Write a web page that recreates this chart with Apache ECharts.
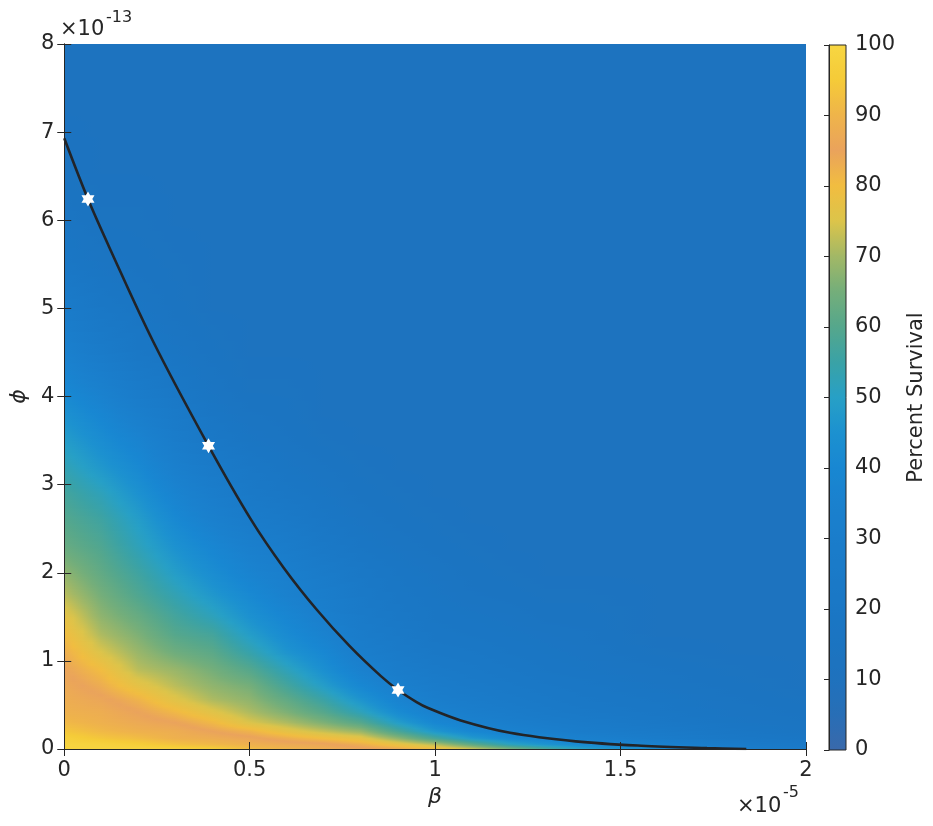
<!DOCTYPE html>
<html>
<head>
<meta charset="utf-8">
<script src="https://cdn.jsdelivr.net/npm/echarts@6/dist/echarts.min.js"></script>
<style>
html,body{margin:0;padding:0;background:#ffffff;}
#chart{width:933px;height:826px;}
</style>
</head>
<body>
<div id="chart"></div>
<script>
// ---------- data (beta in units of 1e-5, phi in units of 1e-13) ----------
const betaSamples = [0, 0.1, 0.2, 0.3, 0.4, 0.5, 0.6, 0.7, 0.8, 0.9, 1.0, 1.1, 1.2, 1.3, 1.4, 1.6, 1.8, 2.0];
const phiSamples = [0, 0.05, 0.12, 0.2, 0.3, 0.42, 0.56, 0.72, 0.9, 1.1, 1.3, 1.5, 1.75, 2.0, 2.3, 2.6, 2.9, 3.2, 3.5, 3.8, 4.1, 4.5, 5.0, 5.5, 6.0, 6.6, 7.3, 8.0];
// percent survival read at (phiSamples[i], betaSamples[j]); one row per phi sample, bottom to top
const survivalRows = [
  [99, 99, 99, 98, 96, 92, 90, 88, 86, 84, 80, 74, 66, 58, 50, 42, 32, 26],
  [99, 98, 96, 93, 91, 89, 87, 86, 83, 78, 72, 62, 52, 46, 42, 36, 27, 22],
  [97, 94, 92, 89, 88, 86, 83, 80, 77, 68, 58, 48, 42, 38, 34, 29, 22, 19],
  [94, 91, 89, 88, 85, 82, 77, 73, 69, 58, 47, 40, 36, 32, 29, 25, 20, 17],
  [91, 89, 87, 85, 81, 75, 71, 66, 60, 49, 40, 35, 31, 28, 26, 22, 18, 16],
  [89, 88, 85, 81, 76, 71, 66, 60, 52, 42, 35, 31, 28, 25, 23, 20, 17, 15],
  [88, 86, 82, 76, 71, 68, 62, 55, 46, 37, 31, 28, 25, 23, 21, 19, 16, 14],
  [87, 83, 77, 72, 68, 65, 57, 49, 40, 33, 28, 25, 23, 21, 20, 17, 15, 13],
  [85, 80, 72, 69, 65, 60, 52, 44, 35, 29, 25, 23, 21, 19, 18, 16, 14, 13],
  [83, 75, 69, 64, 61, 54, 46, 40, 31, 26, 22, 21, 19, 18, 17, 14, 13, 13],
  [80, 71, 66, 60, 57, 49, 42, 36, 28, 24, 20, 19, 18, 17, 16, 13, 13, 13],
  [77, 68, 63, 57, 52, 45, 39, 33, 26, 22, 19, 18, 17, 15, 15, 13, 13, 13],
  [72, 65, 59, 53, 47, 41, 35, 30, 24, 20, 18, 16, 15, 14, 14, 13, 13, 13],
  [68, 62, 56, 49, 43, 37, 32, 27, 22, 19, 17, 15, 14, 13, 13, 13, 13, 13],
  [63, 59, 52, 45, 39, 33, 28, 23, 19, 17, 15, 14, 13, 13, 13, 13, 13, 13],
  [60, 56, 49, 41, 34, 28, 24, 20, 17, 15, 14, 13, 13, 13, 13, 13, 13, 13],
  [57, 52, 45, 37, 30, 24, 20, 18, 15, 14, 13, 13, 13, 13, 13, 13, 13, 13],
  [53, 47, 41, 33, 26, 21, 18, 16, 14, 13, 13, 13, 13, 13, 13, 13, 13, 13],
  [49, 43, 37, 29, 22, 18, 16, 14, 13, 13, 13, 13, 13, 13, 13, 13, 13, 13],
  [45, 39, 32, 25, 19, 16, 15, 13, 13, 13, 13, 13, 13, 13, 13, 13, 13, 13],
  [40, 34, 27, 21, 17, 14, 14, 13, 13, 13, 13, 13, 13, 13, 13, 13, 13, 13],
  [34, 27, 21, 18, 15, 13, 13, 13, 13, 13, 13, 13, 13, 13, 13, 13, 13, 13],
  [27, 21, 18, 15, 13, 13, 13, 13, 13, 13, 13, 13, 13, 13, 13, 13, 13, 13],
  [20, 17, 15, 14, 13, 13, 13, 13, 13, 13, 13, 13, 13, 13, 13, 13, 13, 13],
  [17, 14, 14, 13, 13, 13, 13, 13, 13, 13, 13, 13, 13, 13, 13, 13, 13, 13],
  [14, 13, 13, 13, 13, 13, 13, 13, 13, 13, 13, 13, 13, 13, 13, 13, 13, 13],
  [13, 13, 13, 13, 13, 13, 13, 13, 13, 13, 13, 13, 13, 13, 13, 13, 13, 13],
  [13, 13, 13, 13, 13, 13, 13, 13, 13, 13, 13, 13, 13, 13, 13, 13, 13, 13]
];
// threshold curve
const curveBeta = [0, 0.064, 0.125, 0.239, 0.389, 0.504, 0.592, 0.681, 0.769, 0.853, 0.90, 0.95, 0.981, 1.069, 1.202, 1.379, 1.556, 1.733, 1.839];
const curvePhi  = [6.93, 6.24, 5.66, 4.63, 3.44, 2.60, 2.055, 1.58, 1.17, 0.83, 0.67, 0.533, 0.465, 0.324, 0.184, 0.087, 0.037, 0.010, 0.0];
// marked points
const starBeta = [0.064, 0.389, 0.90];
const starPhi  = [6.24, 3.44, 0.67];
// ticks
const xTicks = [0, 0.5, 1, 1.5, 2];
const yTicks = [0, 1, 2, 3, 4, 5, 6, 7, 8];
const cbTicks = [0, 10, 20, 30, 40, 50, 60, 70, 80, 90, 100];
// colour map samples at 0,5,...,100 percent
const cmapColors = ['#3a69ab','#286eb6','#1f72bd','#1b74c1','#1a77c5','#1a7ac8','#1a7dcb','#1a81ce','#1887d2','#1c91d0',
  '#27a0c6','#3aa2a6','#55a78c','#74ae7a','#a2b866','#dcc44a','#f1bd40','#eaa35c','#efb44a','#f5cb38','#f7d642'];

// ---------- helpers ----------
const FONT = 'DejaVu Sans';
const INK = '#262626';
const cmapRgb = cmapColors.map(h => [parseInt(h.slice(1,3),16), parseInt(h.slice(3,5),16), parseInt(h.slice(5,7),16)]);
function cmap(v) {
  const t = Math.max(0, Math.min(100, v)) / 5;
  const i = Math.min(cmapRgb.length - 2, Math.floor(t));
  const f = t - i;
  const a = cmapRgb[i], b = cmapRgb[i + 1];
  return 'rgb(' + [0,1,2].map(k => Math.round(a[k] + (b[k] - a[k]) * f)).join(',') + ')';
}
const bMax = betaSamples[betaSamples.length - 1];
function rowGradient(vals) {
  const stops = [];
  for (let j = 0; j < betaSamples.length; j++) {
    stops.push({offset: betaSamples[j] / bMax, color: cmap(vals[j])});
    if (j < betaSamples.length - 1) {
      for (let k = 1; k < 4; k++) {
        const f = k / 4;
        stops.push({offset: (betaSamples[j] + (betaSamples[j + 1] - betaSamples[j]) * f) / bMax,
                    color: cmap(vals[j] + (vals[j + 1] - vals[j]) * f)});
      }
    }
  }
  return new echarts.graphic.LinearGradient(0, 0, 1, 0, stops);
}

const chart = echarts.init(document.getElementById('chart'), null, {renderer: 'canvas'});

// one item per band between consecutive phi samples
const bandData = phiSamples.slice(0, -1).map((p, i) => [p, phiSamples[i + 1], i]);

const axisLine = {show: true, lineStyle: {color: INK, width: 1}};
const tickIn = {show: true, inside: true, length: 7, lineStyle: {color: INK, width: 1}};

const option = {
  animation: false,
  backgroundColor: '#ffffff',
  textStyle: {fontFamily: FONT},
  grid: [
    {left: 60, top: 44, width: 746, height: 705},
    {left: 829, top: 45, width: 17, height: 705}
  ],
  xAxis: [
    {type: 'value', gridIndex: 0, min: 0, max: 2, interval: 0.5, z: 10,
     axisLine: axisLine, axisTick: tickIn, splitLine: {show: false},
     axisLabel: {fontSize: 21, color: INK, margin: 11, fontFamily: FONT, formatter: v => String(v)},
     name: 'β', nameLocation: 'middle', nameGap: 36,
     nameTextStyle: {fontSize: 22, color: INK, fontStyle: 'italic', fontFamily: FONT}},
    {type: 'value', gridIndex: 0, position: 'top', min: 0, max: 2, interval: 0.5, z: 10,
     axisLine: axisLine, axisTick: tickIn, axisLabel: {show: false}, splitLine: {show: false}},
    {type: 'value', gridIndex: 1, min: 0, max: 1, show: false}
  ],
  yAxis: [
    {type: 'value', gridIndex: 0, min: 0, max: 8, interval: 1, z: 10,
     axisLine: axisLine, axisTick: tickIn, splitLine: {show: false},
     axisLabel: {fontSize: 21, color: INK, margin: 10, fontFamily: FONT},
     name: 'ϕ', nameLocation: 'middle', nameGap: 27, nameRotate: 90,
     nameTextStyle: {fontSize: 22, color: INK, fontStyle: 'italic', fontFamily: FONT}},
    {type: 'value', gridIndex: 0, position: 'right', min: 0, max: 8, interval: 1, z: 10,
     axisLine: axisLine, axisTick: tickIn, axisLabel: {show: false}, splitLine: {show: false}},
    {type: 'value', gridIndex: 1, position: 'right', min: 0, max: 100, interval: 10, z: 10,
     axisLine: axisLine, axisTick: {show: true, inside: true, length: 5, lineStyle: {color: INK}},
     splitLine: {show: false},
     axisLabel: {fontSize: 21, color: INK, margin: 9, fontFamily: FONT},
     name: 'Percent Survival', nameLocation: 'middle', nameGap: 60, nameRotate: 90,
     nameTextStyle: {fontSize: 21, color: INK, fontFamily: FONT}}
  ],
  series: [
    {
      type: 'custom', name: 'Percent Survival', xAxisIndex: 0, yAxisIndex: 0, z: 1, clip: true,
      data: bandData,
      encode: {x: 0, y: 1},
      renderItem: function (params, api) {
        const lo = api.value(0), hi = api.value(1), idx = api.value(2);
        const rowLo = survivalRows[idx], rowHi = survivalRows[idx + 1];
        const pLo = api.coord([0, lo]), pHi = api.coord([0, hi]);
        const yLo = pLo[1], yHi = pHi[1];
        const xL = Math.round(pLo[0]), xR = Math.round(api.coord([bMax, lo])[0]);
        const pyTop = Math.round(yHi), pyBot = Math.round(yLo);
        const children = [];
        for (let py = pyBot - 1; py >= pyTop; py--) {
          const t = Math.max(0, Math.min(1, (yLo - (py + 0.5)) / (yLo - yHi)));
          const vals = rowLo.map((v, j) => v + (rowHi[j] - v) * t);
          children.push({
            type: 'rect', silent: true,
            shape: {x: xL, y: py, width: xR - xL, height: 1},
            style: {fill: rowGradient(vals)}
          });
        }
        return {type: 'group', children: children};
      }
    },
    {
      type: 'line', name: 'threshold', xAxisIndex: 0, yAxisIndex: 0, z: 3,
      data: curveBeta.map((b, i) => [b, curvePhi[i]]),
      smooth: 0.35, showSymbol: false, symbol: 'none',
      lineStyle: {color: '#222428', width: 2.6}
    },
    {
      type: 'scatter', name: 'points', xAxisIndex: 0, yAxisIndex: 0, z: 4,
      data: starBeta.map((b, i) => [b, starPhi[i]]),
      symbol: 'path://M0,-10L2.887,-5L8.66,-5L5.774,0L8.66,5L2.887,5L0,10L-2.887,5L-8.66,5L-5.774,0L-8.66,-5L-2.887,-5Z',
      symbolKeepAspect: true, symbolSize: 15,
      itemStyle: {color: '#ffffff', opacity: 1}
    },
    {
      type: 'custom', name: 'colorbar', xAxisIndex: 2, yAxisIndex: 2, z: 1,
      data: [[0, 0]],
      renderItem: function (params, api) {
        const pTop = api.coord([0, 100]);
        const pBot = api.coord([1, 0]);
        const stops = [];
        for (let v = 100; v >= 0; v -= 1) stops.push({offset: 1 - v / 100, color: cmap(v)});
        return {
          type: 'rect', silent: true,
          shape: {x: pTop[0], y: pTop[1], width: pBot[0] - pTop[0], height: pBot[1] - pTop[1]},
          style: {fill: new echarts.graphic.LinearGradient(0, 0, 0, 1, stops), stroke: INK, lineWidth: 1}
        };
      }
    }
  ],
  graphic: [
    {type: 'text', left: 60, top: 19, style: {text: '×10', fontSize: 21, fill: INK, fontFamily: FONT}},
    {type: 'text', left: 106, top: 10, style: {text: '-13', fontSize: 16, fill: INK, fontFamily: FONT}},
    {type: 'text', left: 737, top: 796, style: {text: '×10', fontSize: 21, fill: INK, fontFamily: FONT}},
    {type: 'text', left: 783, top: 785, style: {text: '-5', fontSize: 16, fill: INK, fontFamily: FONT}}
  ]
};
chart.setOption(option);
</script>
</body>
</html>
